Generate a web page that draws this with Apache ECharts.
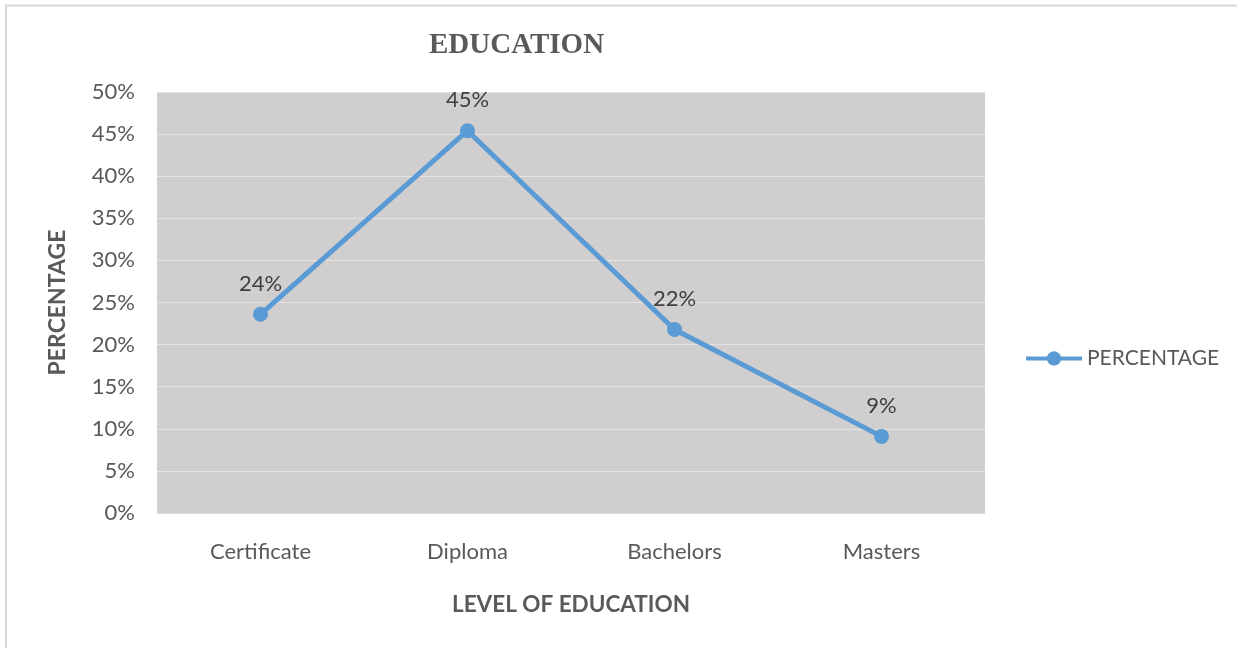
<!DOCTYPE html>
<html><head><meta charset="utf-8">
<script src="https://cdn.jsdelivr.net/npm/echarts@6/dist/echarts.min.js"></script>
<style>html,body{margin:0;padding:0;background:#fff}#c{width:1237px;height:648px}</style>
</head><body><div id="c"></div>
<script>
const categories = ['Certificate', 'Diploma', 'Bachelors', 'Masters'];
const percentage = [23.6, 45.4, 21.8, 9.1];
const labels = ['24%', '45%', '22%', '9%'];
const yTicks = [0, 5, 10, 15, 20, 25, 30, 35, 40, 45, 50];

const chart = echarts.init(document.getElementById('c'));
const sans = 'Lato';
chart.setOption({
  animation: false,
  title: {
    text: 'EDUCATION', left: 424, top: 26,
    textStyle: { fontFamily: 'Liberation Serif', fontWeight: 'bold', fontSize: 29, color: '#595959' }
  },
  graphic: [{ type: 'rect', shape: { x: 6, y: 5.5, width: 1400, height: 800 }, style: { fill: 'none', stroke: '#d9d9d9', lineWidth: 2 }, silent: true }],
  legend: {
    left: 1019, top: 343, itemWidth: 56, itemHeight: 18, itemGap: 7,
    lineStyle: { width: 4 },
    textStyle: { fontFamily: sans, fontSize: 21, color: '#595959' },
    data: ['PERCENTAGE']
  },
  grid: { left: 157, right: 252, top: 92, bottom: 135, show: true, backgroundColor: '#d0cece', borderWidth: 0 },
  xAxis: {
    type: 'category', data: categories, boundaryGap: true,
    axisLine: { show: true, lineStyle: { color: '#d9d9d9', width: 1 } },
    axisTick: { show: false },
    axisLabel: { fontFamily: sans, fontSize: 22, color: '#595959', margin: 28 },
    name: 'LEVEL OF EDUCATION', nameLocation: 'middle', nameGap: 80,
    nameTextStyle: { fontFamily: sans, fontWeight: 'bold', fontSize: 22.5, color: '#595959' }
  },
  yAxis: {
    type: 'value', min: yTicks[0], max: yTicks[yTicks.length - 1], interval: 5,
    axisLine: { show: false }, axisTick: { show: false },
    splitLine: { lineStyle: { color: '#e4e2e2', width: 1 } },
    axisLabel: { fontFamily: sans, fontSize: 22, color: '#595959', margin: 22, formatter: v => v + '%' },
    name: 'PERCENTAGE', nameLocation: 'middle', nameGap: 88, nameRotate: 90,
    nameTextStyle: { fontFamily: sans, fontWeight: 'bold', fontSize: 23, color: '#595959' }
  },
  series: [{
    name: 'PERCENTAGE', type: 'line', data: percentage,
    symbol: 'circle', symbolSize: 15,
    lineStyle: { color: '#5b9bd5', width: 5 },
    itemStyle: { color: '#5b9bd5' },
    label: {
      show: true, position: 'top', distance: 12,
      fontFamily: sans, fontSize: 22, color: '#404040',
      formatter: p => labels[p.dataIndex]
    }
  }]
});
</script></body></html>
